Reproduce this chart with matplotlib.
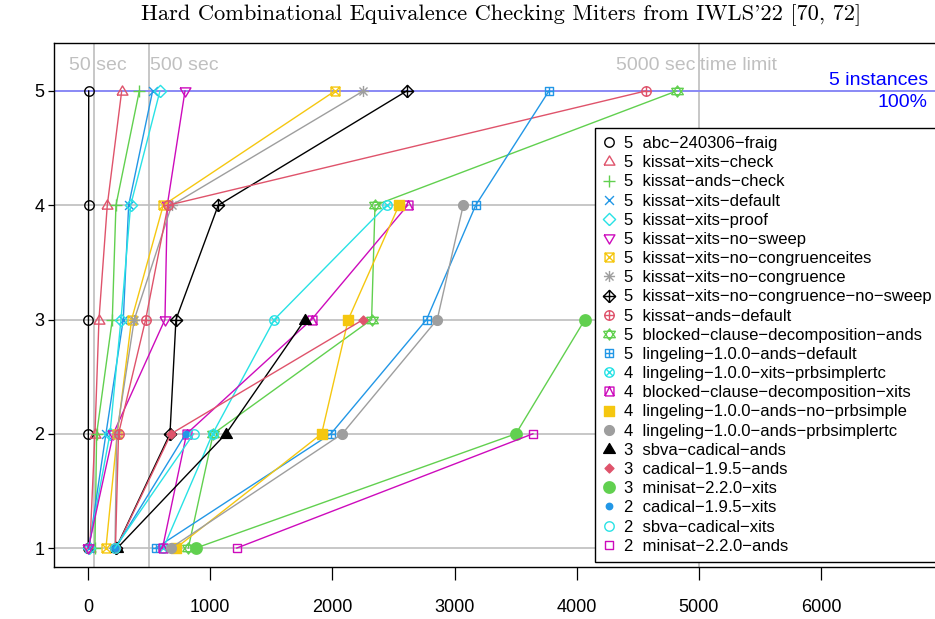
import numpy as np
import matplotlib
matplotlib.use("Agg")
import matplotlib.pyplot as plt
from matplotlib.path import Path
from matplotlib.lines import Line2D

plt.rcParams['font.family'] = ['Liberation Sans', 'DejaVu Sans']

# solved-instance times (seconds), sorted; y = number of instances solved
t_abc_fraig = [2, 3, 4, 5, 6]
t_kissat_xits_check = [15, 57, 90, 158, 276]
t_kissat_ands_check = [57, 71, 199, 229, 420]
t_kissat_xits_default = [8, 147, 289, 333, 529]
t_kissat_xits_proof = [5, 180, 270, 349, 589]
t_kissat_xits_no_sweep = [3, 207, 630, 649, 794]
t_kissat_xits_no_congruenceites = [147, 240, 357, 616, 2021]
t_kissat_xits_no_congruence = [221, 235, 379, 685, 2253]
t_kissat_xits_no_cong_no_sweep = [230, 671, 720, 1066, 2608]
t_kissat_ands_default = [225, 250, 472, 655, 4563]
t_bcd_ands = [821, 1025, 2321, 2349, 4817]
t_lingeling_ands_default = [556, 1988, 2771, 3173, 3772]
t_lingeling_xits_prbsimplertc = [617, 1020, 1525, 2444]
t_bcd_xits = [610, 807, 1830, 2616]
t_lingeling_ands_no_prbsimple = [720, 1912, 2130, 2545]
t_lingeling_ands_prbsimplertc = [677, 2081, 2858, 3071]
t_sbva_cadical_ands = [240, 1129, 1776]
t_cadical_ands = [232, 680, 2253]
t_minisat_xits = [884, 3502, 4067]
t_cadical_xits = [225, 800]
t_sbva_cadical_xits = [220, 865]
t_minisat_ands = [1218, 3641]

names = ["abc-240306-fraig", "kissat-xits-check", "kissat-ands-check",
         "kissat-xits-default", "kissat-xits-proof", "kissat-xits-no-sweep",
         "kissat-xits-no-congruenceites", "kissat-xits-no-congruence",
         "kissat-xits-no-congruence-no-sweep", "kissat-ands-default",
         "blocked-clause-decomposition-ands", "lingeling-1.0.0-ands-default",
         "lingeling-1.0.0-xits-prbsimplertc", "blocked-clause-decomposition-xits",
         "lingeling-1.0.0-ands-no-prbsimple", "lingeling-1.0.0-ands-prbsimplertc",
         "sbva-cadical-ands", "cadical-1.9.5-ands", "minisat-2.2.0-xits",
         "cadical-1.9.5-xits", "sbva-cadical-xits", "minisat-2.2.0-ands"]

times = [t_abc_fraig, t_kissat_xits_check, t_kissat_ands_check,
         t_kissat_xits_default, t_kissat_xits_proof, t_kissat_xits_no_sweep,
         t_kissat_xits_no_congruenceites, t_kissat_xits_no_congruence,
         t_kissat_xits_no_cong_no_sweep, t_kissat_ands_default, t_bcd_ands,
         t_lingeling_ands_default, t_lingeling_xits_prbsimplertc, t_bcd_xits,
         t_lingeling_ands_no_prbsimple, t_lingeling_ands_prbsimplertc,
         t_sbva_cadical_ands, t_cadical_ands, t_minisat_xits, t_cadical_xits,
         t_sbva_cadical_xits, t_minisat_ands]

# R 4.x default palette
palette = ["black", "#DF536B", "#61D04F", "#2297E6", "#28E2E5", "#CD0BBC",
           "#F5C710", "#9E9E9E"]


# --- R-like pch symbols as custom paths (coordinates in points) ---
def circle(r, n=40):
    a = np.linspace(0, 2 * np.pi, n + 1)
    return list(zip(r * np.cos(a), r * np.sin(a)))


def sq(h):
    return [(-h, -h), (h, -h), (h, h), (-h, h), (-h, -h)]


def tri_up(w, top, bot):
    return [(-w, bot), (w, bot), (0, top), (-w, bot)]


def make_marker(polys, closed=False):
    verts, codes = [], []
    for p in polys:
        verts += p
        codes += [Path.MOVETO] + [Path.LINETO] * (len(p) - 1)
        if closed:
            verts.append(p[0])
            codes.append(Path.CLOSEPOLY)
    ext = 2 * max(max(abs(x), abs(y)) for x, y in verts)
    return Path(verts, codes), ext


def plus(a):
    return [[(-a, 0), (a, 0)], [(0, -a), (0, a)]]


def cross(a):
    return [[(-a, -a), (a, a)], [(-a, a), (a, -a)]]


D = 4.4
pch = {
    1: make_marker([circle(3.4)]),
    2: make_marker([tri_up(3.9, 4.0, -2.6)]),
    3: make_marker(plus(4.3)),
    4: make_marker(cross(3.2)),
    5: make_marker([[(0, -D), (D, 0), (0, D), (-D, 0), (0, -D)]]),
    6: make_marker([tri_up(3.9, -4.0, 2.6)]),
    7: make_marker([sq(3.2)] + cross(3.2)),
    8: make_marker(plus(4.0) + cross(2.9)),
    9: make_marker([[(0, -D), (D, 0), (0, D), (-D, 0), (0, -D)]] + plus(D)),
    10: make_marker([circle(3.4)] + plus(3.4)),
    11: make_marker([tri_up(4.2, 4.0, -2.3), tri_up(4.2, -4.0, 2.3)]),
    12: make_marker([sq(3.2)] + plus(3.2)),
    13: make_marker([circle(3.4)] + cross(2.4)),
    14: make_marker([sq(3.2), [(-3.2, -3.2), (0, 3.2), (3.2, -3.2)]]),
    15: make_marker([sq(3.4)], closed=True),
    16: make_marker([circle(3.5)], closed=True),
    17: make_marker([tri_up(4.2, 4.3, -2.8)], closed=True),
    18: make_marker([[(0, -3.2), (3.2, 0), (0, 3.2), (-3.2, 0)]], closed=True),
    19: make_marker([circle(4.1)], closed=True),
    20: make_marker([circle(2.3)], closed=True),
    21: make_marker([circle(3.4)]),
    22: make_marker([sq(3.2)]),
}
filled = {15, 16, 17, 18, 19, 20}

fig = plt.figure(figsize=(9.35, 6.19), dpi=100)
ax = fig.add_axes([54 / 935, 1 - 567 / 619, (971 - 54) / 935, (567 - 43) / 619])
ax.set_xlim(-278, 7226)
ax.set_ylim(0.834, 5.42)

grid_col = "#bebebe"
for y in range(1, 6):
    ax.axhline(y, color=grid_col, lw=1.2, zorder=0)
for x in [50, 500, 5000]:
    ax.axvline(x, color=grid_col, lw=1.2, zorder=0)
ax.axhline(5, color="#8080ff", lw=1.2, zorder=0.5)

handles = []
for i, (name, t) in enumerate(zip(names, times)):
    col = palette[i % 8]
    path, ext = pch[i + 1]
    fc = col if (i + 1) in filled else "none"
    y = np.arange(1, len(t) + 1)
    ax.plot(t, y, color=col, lw=1.0, marker=path, markersize=ext,
            markerfacecolor=fc, markeredgecolor=col, markeredgewidth=1.0,
            zorder=2 + i * 0.01)
    label = f"{len(t)}  " + name.replace("-", "\u2212")
    handles.append(Line2D([], [], linestyle="none", marker=path, markersize=ext,
                          markerfacecolor=fc, markeredgecolor=col,
                          markeredgewidth=1.0, label=label))

txt_col = "#c0c0c0"
ax.text(82, 5.219, "50 sec", ha="center", va="center", fontsize=14, color=txt_col)
ax.text(510, 5.219, "500 sec", ha="left", va="center", fontsize=14, color=txt_col)
ax.text(4967, 5.219, "5000 sec", ha="right", va="center", fontsize=14, color=txt_col)
ax.text(5008, 5.219, "time limit", ha="left", va="center", fontsize=14, color=txt_col)
ax.text(6874, 5.0875, "5 instances", ha="right", va="center", fontsize=14, color="blue")
ax.text(6874, 4.895, "100%", ha="right", va="center", fontsize=14, color="blue")

ax.set_xticks(range(0, 7000, 1000))
ax.set_yticks(range(1, 6))
ax.tick_params(axis="x", direction="out", length=9, width=0.9, labelsize=13, pad=14)
ax.tick_params(axis="y", direction="out", length=4.5, width=0.9, labelsize=13, pad=2.5)
for s in ax.spines.values():
    s.set_linewidth(1.0)

leg = fig.legend(handles=handles, loc="lower left",
                 bbox_to_anchor=(595 / 935, 1 - 562 / 619),
                 bbox_transform=fig.transFigure, fontsize=12, frameon=True,
                 fancybox=False, edgecolor="black", framealpha=1,
                 borderaxespad=0, handlelength=0.7, handletextpad=0.55,
                 labelspacing=0.25, borderpad=0.5)
leg.get_frame().set_linewidth(1.0)

fig.text(501 / 935, 1 - 15 / 619,
         "Hard Combinational Equivalence Checking Miters from IWLS'22 [70, 72]",
         family="cmr10", fontsize=16.2, ha="center", va="center")

fig.savefig("out.png", dpi=100)
